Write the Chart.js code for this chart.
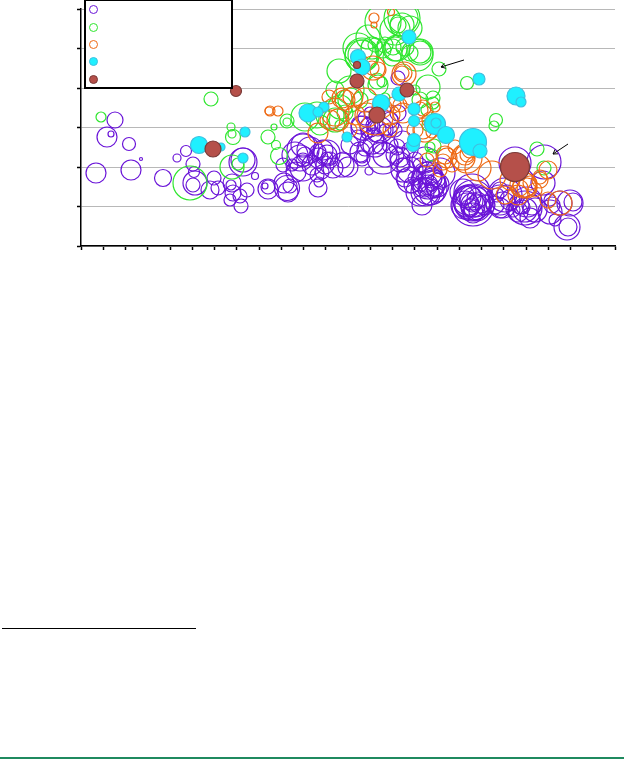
<!DOCTYPE html>
<html lang="en">
<head>
  <meta charset="UTF-8">
  <title>Bubble chart</title>
  <script src="https://cdn.jsdelivr.net/npm/chart.js"></script>
  <style>
    body {
      margin: 0;
      background: #fff;
      width: 624px;
      height: 759px;
      position: relative;
      overflow: hidden;
    }
    canvas {
      position: absolute;
      left: 0;
      top: 0;
    }
    .legend {
      position: absolute;
      left: 84px;
      top: -1px;
      width: 145px;
      height: 86px;
      background: #fff;
      border: 2px solid #000;
    }
    .legend span {
      position: absolute;
      left: 3px;
      width: 7px;
      height: 7px;
      border-radius: 50%;
      border: 1.3px solid;
    }
    .rule {
      position: absolute;
      left: 2px;
      top: 628px;
      width: 194px;
      height: 1px;
      background: #000;
    }
    .bottom-line {
      position: absolute;
      left: 0;
      top: 757px;
      width: 624px;
      height: 2px;
      background: #1f8a5f;
    }
  </style>
</head>
<body>

<canvas id="chart" width="624" height="759"></canvas>

<div class="legend">
  <span style="top:4px;border-color:#6a14d8"></span>
  <span style="top:22px;border-color:#2ee62e"></span>
  <span style="top:39px;border-color:#ee6a14"></span>
  <span style="top:56px;border-color:#3fc0e0;background:#1ff0ff"></span>
  <span style="top:74px;border-color:#7a3a38;background:#b5504a"></span>
</div>
<div class="rule"></div>
<div class="bottom-line"></div>

<script>
const purpleX = [34,26,30,48,15,50,60,82,96,105,112,113,112,114,133,129,137,151,150,152,149,160,166,159,162,162,174,187,187,184,206,203,209,207,202,219,222,222,222,237,246,246,242,237,238,236,252,288,281,261,267,246,222,302,294,299,289,309,316,306,322,319,329,322,346,349,352,317,317,347,349,344,356,341,339,359,344,329,319,304,291,281,262,392,391,394,392,391,399,386,391,387,396,392,382,392,419,422,426,419,424,444,444,442,451,437,446,434,463,462,469,479,489,492,486,487,474,471,
  214,229,215,231,244,241,224,249,211,237,279,284,291,297,286,294,304,282,314,289,277,269,284,299,279,309,314,329,322,334,339,324,331,344,351,347,354,344,349,357,339,351,346,356,334,384,389,397,384,404,389,396,414,416,429,419,432,454,449,439,469];
const purpleY = [126,109,112,102,73,76,87,68,88,95,82,74,61,63,68,56,58,63,61,53,46,40,56,50,86,84,70,57,59,60,58,63,60,54,81,88,78,101,86,88,91,88,96,58,64,71,78,75,88,81,79,93,96,88,101,116,119,126,99,123,106,89,76,76,69,73,63,168,133,64,58,54,61,41,54,73,86,66,84,91,104,89,86,46,43,44,41,41,46,41,54,46,38,33,54,41,46,41,51,38,51,38,36,39,41,34,44,83,84,63,34,43,43,44,19,19,26,41,
  91,96,74,81,81,74,91,86,81,94,121,128,121,118,113,111,116,118,116,133,108,101,98,99,94,101,91,96,81,86,81,68,61,71,68,61,56,56,51,66,61,61,76,51,68,41,38,46,51,41,49,34,41,51,46,56,36,36,28,41,46];
const purpleR = [8,10,3,6.5,10,10,1.5,8.5,4,5.5,7,5.5,7,12,7,9,7,9,5,8,6,7,7,7,12,14,3.5,10,7,3,12.5,10,7,10,7,13,13,12,7,10,10,6,10,9,5,7,10,4,8,12,10,13,16,16,12,13,10,8,8,12,9,10,13,12,15,12,13,7,8,17,17,14,12,10,14,15,13,13,10,12,12,6,8,20,18,15,12,7,13,12,18,15,13,10,13,21,15,13,10,10,17,17,12,7,10,10,15,16,17,12,12,12,13,9,13,9,6,8,
  13,13,10,10,9,7,8,8,6,8,9,7,6,8,6,7,6,12,7,6,8,9,8,7,10,8,9,8,7,8,7,9,8,9,10,10,8,7,10,7,7,6,8,7,7,14,9,8,9,10,11,8,9,7,10,8,7,12,10,9,6];

const greenX = [20,130,150,193,206,206,224,236,152,151,187,195,198,109,151,157,259,254,269,349,281,282,280,258,287,302,321,322,321,317,316,314,312,339,339,329,302,294,358,347,352,296,301,386,415,413,353,456,463,264,352,
  269,254,297,304,346,339,334,279,239,249,259,351,347,314,329,304,291,277,336,324,311];
const greenY = [129,147,119,119,125,124,129,131,109,112,109,101,90,63,79,82,139,126,146,99,191,191,190,175,209,224,228,228,221,221,198,197,199,194,194,193,196,201,177,159,148,165,164,163,126,120,100,97,78,133,143,
  156,156,161,148,136,146,156,146,121,131,121,91,121,216,218,201,198,198,191,199,189];
const greenR = [5,7,4,3,7,4,14,13,7.5,4,7,4.5,8.5,17,12,6,12,12,12,5,17,15,16,12,12,18,18,15,12,8,13,12,8,13,11,8,8,7,7,12,7,8,5,6.5,6.5,5,7,7,7,8,6,
  14,9,10,5,6,8,5,8,10,14,5,6,6,15,12,8,11,15,16,9,9];

const orangeX = [189,188,197,248,261,272,257,249,237,286,294,309,322,344,342,354,293,293,310,292,291,323,322,321,382,374,362,386,366,384,386,346,411,444,439,449,467,459,479,446,442,459,
  264,254,274,269,284,301,312,331,339,349,309,319,297,334,364,359,371,397,389,429,454,437,467,424,342,351];
const orangeY = [135,135,135,149,148,149,126,126,113,131,129,131,133,116,138,139,228,221,234,178,178,172,173,173,88,99,84,91,88,91,88,86,71,61,58,63,76,69,43,58,61,66,
  146,134,131,116,146,138,141,146,136,126,116,141,176,116,91,76,81,78,96,66,56,51,46,51,116,114];
const orangeR = [5,4,5,7,10,10,11,10,10,12,18,10,10,12,8,5,5,3,3.5,12,7,12,9,7,12,7,8,7,10,10,15,7,14,12,8,7,9,7,12,10,13,8,
  10,14,10,7,12,10,8,9,8,8,7,7,8,8,9,7,7,13,8,10,7,10,8,9,9,6];

const cyanX = [227,243,237,164,118,140,162,328,277,281,318,300,333,333,354,355,435,440,398,365,392,399,332,333,266,276];
const cyanY = [133,139,134,114,101,99,88,209,189,179,152,143,137,125,122,123,150,144,167,111,104,95,101,106,109,163];
const cyanR = [9,5,5,5,8.5,4,5,7,7.5,8,7,8.5,6,5.5,10.5,5,9,5,6,8.5,13.5,7,6.5,6.5,5,4];

const brownX = [155,132,276,276,326,296,434];
const brownY = [155,97,181,165,156,131,79];
const brownR = [5.5,8,3.5,7,7,8,14.5];

// tail and head of the two pointer arrows, in axis units
const arrowTailX = [383,487];
const arrowTailY = [186,102];
const arrowHeadX = [360,472];
const arrowHeadY = [179,92];

function toPoints(xs, ys, rs) {
  return xs.map((x, i) => ({ x: x, y: ys[i], r: rs[i] }));
}

function series(xs, ys, rs, fill, line, order) {
  return {
    data: toPoints(xs, ys, rs),
    backgroundColor: fill,
    borderColor: line,
    borderWidth: 1.2,
    clip: 0,
    order: order
  };
}

const arrowPlugin = {
  id: "arrows",
  afterDatasetsDraw(chart) {
    const ctx = chart.ctx;
    const xs = chart.scales.x, ys = chart.scales.y;
    ctx.save();
    ctx.strokeStyle = "#000";
    ctx.lineWidth = 1;
    arrowTailX.forEach((tx, i) => {
      const x0 = xs.getPixelForValue(tx), y0 = ys.getPixelForValue(arrowTailY[i]);
      const x1 = xs.getPixelForValue(arrowHeadX[i]), y1 = ys.getPixelForValue(arrowHeadY[i]);
      const a = Math.atan2(y1 - y0, x1 - x0);
      ctx.beginPath();
      ctx.moveTo(x0, y0);
      ctx.lineTo(x1, y1);
      ctx.moveTo(x1 - 5 * Math.cos(a - 0.55), y1 - 5 * Math.sin(a - 0.55));
      ctx.lineTo(x1, y1);
      ctx.lineTo(x1 - 5 * Math.cos(a + 0.55), y1 - 5 * Math.sin(a + 0.55));
      ctx.stroke();
    });
    ctx.restore();
  }
};

new Chart(document.getElementById("chart"), {
  type: "bubble",
  data: {
    datasets: [
      series(purpleX, purpleY, purpleR, "transparent", "#6a14d8", 5),
      series(greenX, greenY, greenR, "transparent", "#2ee62e", 4),
      series(orangeX, orangeY, orangeR, "transparent", "#ee6a14", 3),
      series(cyanX, cyanY, cyanR, "#1ff0ff", "#3fc0e0", 2),
      series(brownX, brownY, brownR, "#b5504a", "#7a3a38", 1)
    ]
  },
  options: {
    responsive: false,
    animation: false,
    layout: { autoPadding: false, padding: { left: 77, top: 9, right: 9, bottom: 509 } },
    plugins: {
      legend: { display: false },
      tooltip: { enabled: false }
    },
    scales: {
      x: {
        type: "linear",
        min: 0,
        max: 534,
        ticks: { display: false, stepSize: 22.25 },
        grid: { color: "transparent", tickColor: "#000", tickLength: 4, tickWidth: 1.5 },
        border: { color: "#000", width: 1.5 }
      },
      y: {
        type: "linear",
        min: 0,
        max: 237,
        ticks: { display: false, stepSize: 39.5 },
        grid: { color: "#b8b8b8", tickColor: "#000", tickLength: 4, tickWidth: 1.5 },
        border: { color: "#000", width: 1.5 }
      }
    }
  },
  plugins: [arrowPlugin]
});
</script>

</body>
</html>
